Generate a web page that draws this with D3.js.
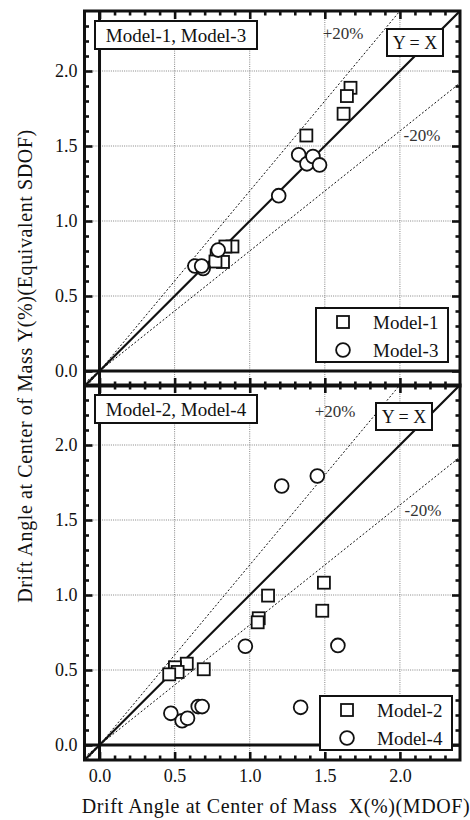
<!DOCTYPE html>
<html>
<head>
<meta charset="utf-8">
<script src="https://cdn.jsdelivr.net/npm/d3@7"></script>
<style>
  body { margin: 0; background: #fff; }
  svg { display: block; }
  svg text { font-family: "Liberation Serif", Tinos, "DejaVu Serif", serif !important; fill: #111; }
</style>
</head>
<body>
<svg id="chart" width="470" height="820"></svg>
<script>
// DATA
const majorTicks = [0, 0.5, 1.0, 1.5, 2.0];
const minorTicks = d3.range(1, 24).map((d) => d / 10).filter((d) => Math.round(d * 10) % 5 != 0);
const refLines = [
  { slope: 1.0, label: "Y = X" },
  { slope: 1.2, label: "+20%" },
  { slope: 0.8, label: "-20%" },
];

// [x (MDOF), y (Equivalent SDOF)]
const model1 = [
  [1.671, 1.888], [1.647, 1.833], [1.625, 1.715], [1.377, 1.570],
  [0.885, 0.830], [0.838, 0.830], [0.780, 0.770], [0.822, 0.727], [0.772, 0.730],
];
const model3 = [
  [1.326, 1.441], [1.381, 1.381], [1.421, 1.430], [1.465, 1.374], [1.193, 1.169],
  [0.635, 0.700], [0.690, 0.683], [0.680, 0.700], [0.790, 0.806],
];
const model2 = [
  [1.494, 1.082], [1.483, 0.895], [1.122, 0.996], [1.060, 0.845], [1.053, 0.818],
  [0.694, 0.505], [0.581, 0.542], [0.502, 0.518], [0.520, 0.487], [0.464, 0.471],
];
const model4 = [
  [1.450, 1.793], [1.213, 1.727], [0.971, 0.658], [1.587, 0.664], [1.339, 0.251],
  [0.475, 0.211], [0.550, 0.162], [0.586, 0.178], [0.657, 0.256], [0.683, 0.256],
];

const panels = [
  {
    title: "Model-1, Model-3",
    series: [
      { name: "Model-1", shape: "square", values: model1 },
      { name: "Model-3", shape: "circle", values: model3 },
    ],
    top: 11, yx: { x: 387, y: 18 }, plus: { x: 343, y: 22 }, minus: { x: 422, y: 124 },
    legend: { x: 316, y: 297 },
  },
  {
    title: "Model-2, Model-4",
    series: [
      { name: "Model-2", shape: "square", values: model2 },
      { name: "Model-4", shape: "circle", values: model4 },
    ],
    top: 385, yx: { x: 376, y: 18 }, plus: { x: 335, y: 26 }, minus: { x: 423, y: 125 },
    legend: { x: 320, y: 311 },
  },
];

// CANVAS SETUP
const svg = d3.select("#chart");
const left = 84.5, right = 460, ph = 375;

const xScale = d3.scaleLinear().domain([-0.1, 2.4]).range([left, right]);

const squareSize = 12, circleR = 6.9;

function drawMarker(sel, shape, cx, cy) {
  if (shape == "square") {
    sel.append("rect")
      .attr("x", cx - squareSize / 2).attr("y", cy - squareSize / 2)
      .attr("width", squareSize).attr("height", squareSize)
      .attr("fill", "#fff").attr("stroke", "#111").attr("stroke-width", 1.8);
  } else {
    sel.append("circle")
      .attr("cx", cx).attr("cy", cy).attr("r", circleR)
      .attr("fill", "#fff").attr("stroke", "#111").attr("stroke-width", 1.8);
  }
}

panels.forEach((p, pi) => {
  const yScale = d3.scaleLinear().domain([-0.1, 2.4]).range([p.top + ph, p.top]);
  const g = svg.append("g");

  const clipId = "clip" + pi;
  svg.append("clipPath").attr("id", clipId)
    .append("rect").attr("x", left).attr("y", p.top).attr("width", right - left).attr("height", ph);

  // grid
  const grid = g.append("g").attr("stroke", "#777").attr("stroke-width", 0.9).attr("stroke-dasharray", "1,1.2");
  grid.selectAll(".gx").data(majorTicks.slice(1)).join("line")
    .attr("x1", (d) => xScale(d)).attr("x2", (d) => xScale(d))
    .attr("y1", p.top).attr("y2", p.top + ph);
  grid.selectAll(".gy").data(majorTicks.slice(1)).join("line")
    .attr("class", "gy")
    .attr("y1", (d) => yScale(d)).attr("y2", (d) => yScale(d))
    .attr("x1", left).attr("x2", right);

  // reference lines
  const refs = g.append("g").attr("clip-path", `url(#${clipId})`);
  refs.selectAll("line").data(refLines).join("line")
    .attr("x1", xScale(-0.1)).attr("y1", (d) => yScale(-0.1 * d.slope))
    .attr("x2", xScale(2.4)).attr("y2", (d) => yScale(2.4 * d.slope))
    .attr("stroke", "#111")
    .attr("stroke-width", (d) => (d.slope == 1 ? 2.2 : 1))
    .attr("stroke-dasharray", (d) => (d.slope == 1 ? null : "2,2"));

  // zero lines
  g.append("line").attr("x1", xScale(0)).attr("x2", xScale(0)).attr("y1", p.top).attr("y2", p.top + ph)
    .attr("stroke", "#111").attr("stroke-width", 3);
  g.append("line").attr("y1", yScale(0)).attr("y2", yScale(0)).attr("x1", left).attr("x2", right)
    .attr("stroke", "#111").attr("stroke-width", 3);

  // markers
  p.series.forEach((s) => {
    const mg = g.append("g");
    s.values.forEach((d) => drawMarker(mg, s.shape, xScale(d[0]), yScale(d[1])));
  });

  // +-20% labels
  g.append("text").attr("x", p.plus.x).attr("y", p.top + p.plus.y).attr("dy", "0.35em")
    .attr("text-anchor", "middle").style("font-size", "17px").style("fill", "#333").text(refLines[1].label);
  g.append("text").attr("x", p.minus.x).attr("y", p.top + p.minus.y).attr("dy", "0.35em")
    .attr("text-anchor", "middle").style("font-size", "17px").style("fill", "#333").text(refLines[2].label);

  // title box
  const tb = g.append("g").attr("transform", `translate(95,${p.top + 10})`);
  tb.append("rect").attr("width", 162).attr("height", 28).attr("fill", "#fff").attr("stroke", "#111").attr("stroke-width", 2);
  tb.append("text").attr("x", 81).attr("y", 14).attr("dy", "0.35em").attr("text-anchor", "middle")
    .style("font-size", "19px").text(p.title);

  // Y = X box
  const yb = g.append("g").attr("transform", `translate(${p.yx.x},${p.top + p.yx.y})`);
  yb.append("rect").attr("width", 56).attr("height", 27).attr("fill", "#fff").attr("stroke", "#111").attr("stroke-width", 2);
  yb.append("text").attr("x", 28).attr("y", 13.5).attr("dy", "0.35em").attr("text-anchor", "middle")
    .style("font-size", "18px").text(refLines[0].label);

  // legend
  const lg = g.append("g").attr("transform", `translate(${p.legend.x},${p.top + p.legend.y})`);
  lg.append("rect").attr("width", 132).attr("height", 54).attr("fill", "#fff").attr("stroke", "#111").attr("stroke-width", 2);
  p.series.forEach((s, i) => {
    const row = lg.append("g").attr("transform", `translate(0,${14 + i * 28})`);
    drawMarker(row, s.shape, 27, 0);
    row.append("text").attr("x", 57).attr("y", 0).attr("dy", "0.35em").style("font-size", "19px").text(s.name);
  });

  // frame
  g.append("rect").attr("x", left).attr("y", p.top).attr("width", right - left).attr("height", ph)
    .attr("fill", "none").attr("stroke", "#111").attr("stroke-width", 3);

  // ticks, inward on all four sides
  const axes = [
    { axis: d3.axisTop(xScale), tr: `translate(0,${p.top})` },
    { axis: d3.axisBottom(xScale), tr: `translate(0,${p.top + ph})` },
    { axis: d3.axisLeft(yScale), tr: `translate(${left},0)` },
    { axis: d3.axisRight(yScale), tr: `translate(${right},0)` },
  ];
  axes.forEach((a, ai) => {
    const minor = g.append("g").attr("transform", a.tr)
      .call(a.axis.tickValues(minorTicks).tickSizeInner(-4.5).tickSizeOuter(0).tickFormat(""));
    minor.select(".domain").remove();
    minor.selectAll("line").attr("stroke", "#111").attr("stroke-width", 2.6);

    const showLabels = ai == 2 || (ai == 1 && pi == panels.length - 1);
    const major = g.append("g").attr("transform", a.tr)
      .call(a.axis.tickValues(majorTicks).tickSizeInner(-8).tickSizeOuter(0)
        .tickPadding(ai == 2 ? 7 : 9)
        .tickFormat(showLabels ? d3.format(".1f") : ""));
    major.select(".domain").remove();
    major.attr("font-family", null);
    major.selectAll("line").attr("stroke", "#111").attr("stroke-width", 2.6);
    major.selectAll("text").style("font-size", "18px").attr("fill", "#111");
  });
});

// axis titles
svg.append("text")
  .attr("x", 276).attr("y", 813).attr("text-anchor", "middle")
  .style("font-size", "20px").style("letter-spacing", "0.6px")
  .attr("xml:space", "preserve")
  .text("Drift Angle at Center of Mass  X(%)(MDOF)");

svg.append("text")
  .attr("transform", "translate(32,366) rotate(-90)").attr("text-anchor", "middle")
  .style("font-size", "20px").style("letter-spacing", "0.6px")
  .text("Drift Angle at Center of Mass Y(%)(Equivalent SDOF)");
</script>
</body>
</html>
